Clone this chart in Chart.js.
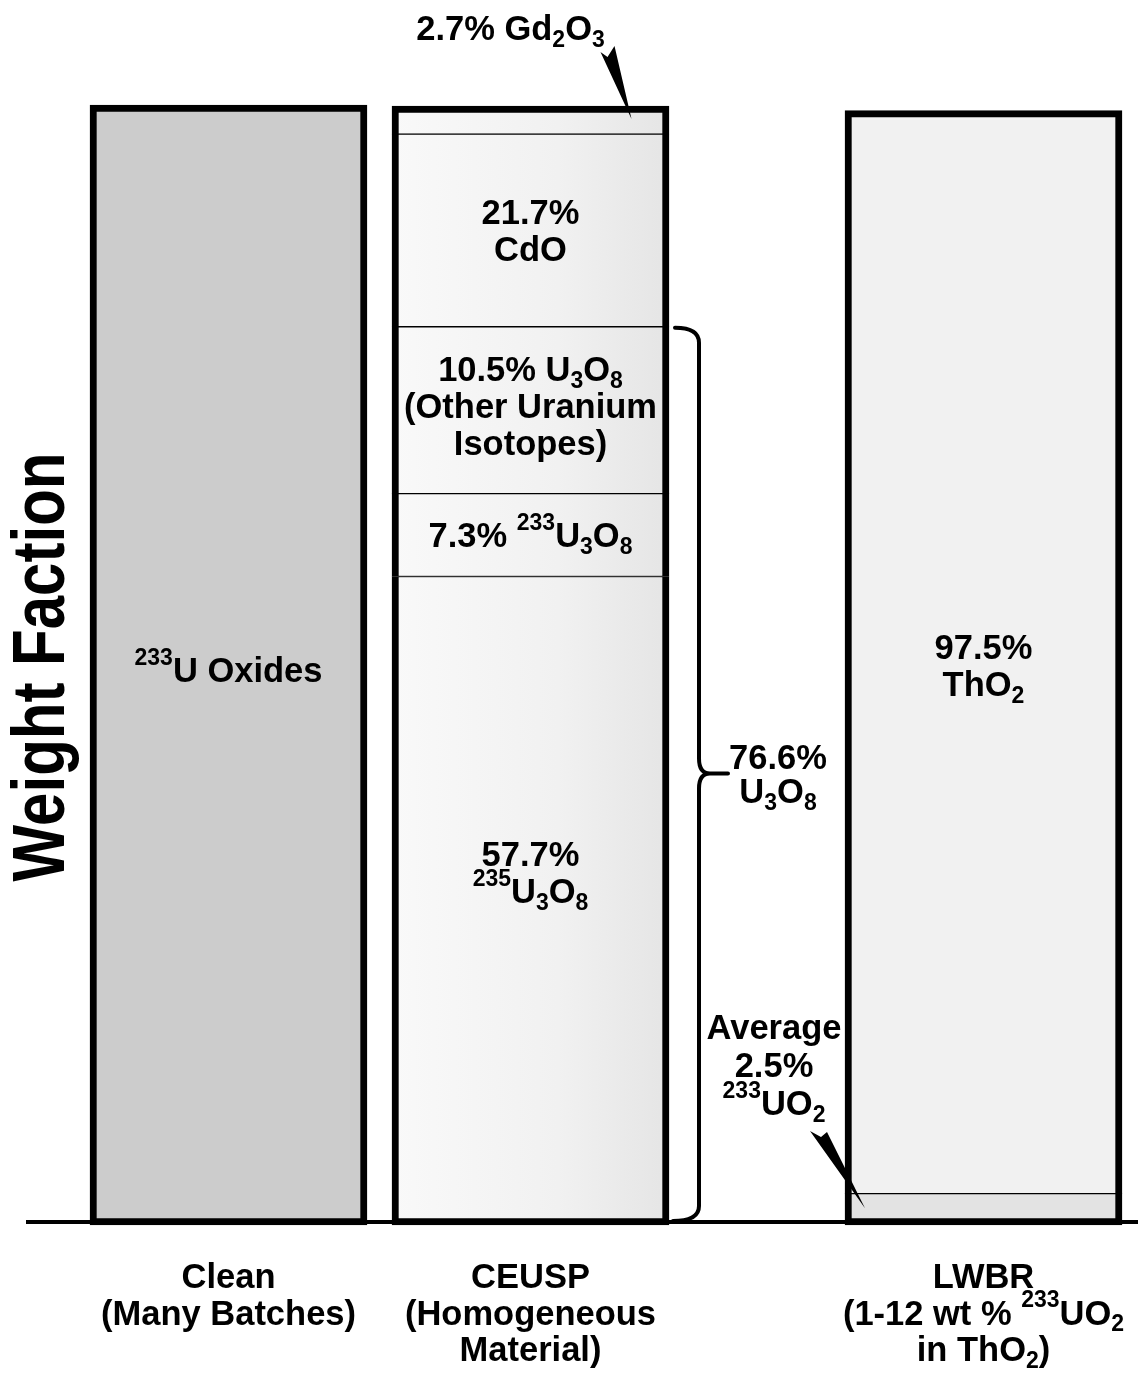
<!DOCTYPE html>
<html><head><meta charset="utf-8">
<script src="https://cdn.jsdelivr.net/npm/chart.js@4.4.0/dist/chart.umd.min.js"></script>
<style>html,body{margin:0;padding:0;background:#fff}#wrap{width:1138px;height:1374px;position:relative}</style>
</head><body><div id="wrap"><canvas id="c"></canvas></div>
<script>
// ---------- data ----------
const categories = ['Clean', 'CEUSP', 'LWBR'];
const categoryLabels = [
  ['Clean', '(Many Batches)'],
  ['CEUSP', '(Homogeneous', 'Material)'],
  ['LWBR', '(1-12 wt % ^{233}UO_{2}', 'in ThO_{2})']
];
const yTitle = 'Weight Faction';
// segment heights (% of column, as drawn), bottom to top
const u233Oxides = [100, null, null];
const u235U3O8   = [null, 57.9, null];
const u233UO2    = [null, null, 2.8];
const u233U3O8   = [null, 7.4, null];
const thO2       = [null, null, 96.7];
const otherU3O8  = [null, 14.9, null];
const cdO        = [null, 17.2, null];
const gd2O3      = [null, 2.5, null];
// in-bar label texts
const segmentText = {
  u233Oxides: ['^{233}U Oxides'],
  u235U3O8: ['57.7%', '^{235}U_{3}O_{8}'],
  u233U3O8: ['7.3% ^{233}U_{3}O_{8}'],
  otherU3O8: ['10.5% U_{3}O_{8}', '(Other Uranium', 'Isotopes)'],
  cdO: ['21.7%', 'CdO'],
  thO2: ['97.5%', 'ThO_{2}']
};
const gdText = '2.7% Gd_{2}O_{3}';
const avgText = ['Average', '2.5%', '^{233}UO_{2}'];
const braceText = ['76.6%', 'U_{3}O_{8}'];

// ---------- layout / style ----------
const FONT = '"Liberation Sans", Arial, Helvetica, sans-serif';
const FS = 34.5;
const BORDER = 7;
const BAR_W = 277;
const SLOTS = 6;
const slotOf = [0, 2, 5];
const labelDy = { u233Oxides: 5, u235U3O8: -28.5, u233U3O8: 0, otherU3O8: -4, cdO: 0, thO2: 13.5 };

function expand(arr) {
  const out = new Array(SLOTS).fill(null);
  arr.forEach((v, i) => { out[slotOf[i]] = v; });
  return out;
}
const slotLabels = expand(categories).map(v => v == null ? '' : v);

function ceuspFill(ctx) {
  const ch = ctx.chart;
  if (!ch.chartArea || !ch.scales.x) return '#eeeeee';
  const cx = ch.scales.x.getPixelForValue(slotOf[1]);
  const g = ch.ctx.createLinearGradient(cx - BAR_W / 2, 0, cx + BAR_W / 2, 0);
  g.addColorStop(0, '#f9f9f9');
  g.addColorStop(0.6, '#f1f1f1');
  g.addColorStop(1, '#e5e5e5');
  return g;
}
function borderFor(ctx) {
  const ci = ctx.dataIndex, di = ctx.datasetIndex;
  const ds = ctx.chart.data.datasets;
  const present = [];
  ds.forEach((d, k) => { if (d.data[ci] != null) present.push(k); });
  const isBottom = present[0] === di, isTop = present[present.length - 1] === di;
  return { left: BORDER, right: BORDER, top: isTop ? BORDER : 1, bottom: isBottom ? BORDER : 1 };
}

const series = [
  ['u233Oxides', u233Oxides, '#cccccc'],
  ['u235U3O8', u235U3O8, ceuspFill],
  ['u233UO2', u233UO2, '#e3e3e3'],
  ['u233U3O8', u233U3O8, ceuspFill],
  ['thO2', thO2, '#f1f1f1'],
  ['otherU3O8', otherU3O8, ceuspFill],
  ['cdO', cdO, ceuspFill],
  ['gd2O3', gd2O3, ceuspFill]
];

// ---------- rich text ----------
function parseRich(s) {
  const out = []; const re = /(\^\{[^}]*\}|_\{[^}]*\})/g; let last = 0, m;
  while ((m = re.exec(s))) {
    if (m.index > last) out.push({ t: s.slice(last, m.index), k: 0 });
    out.push({ t: m[0].slice(2, -1), k: m[0][0] === '^' ? 1 : -1 });
    last = re.lastIndex;
  }
  if (last < s.length) out.push({ t: s.slice(last), k: 0 });
  return out;
}
function drawRich(ctx, s, cx, by, size) {
  const segs = parseRich(s);
  const small = Math.round(size * 0.68);
  let w = 0;
  segs.forEach(g => { ctx.font = `bold ${g.k ? small : size}px ${FONT}`; g.w = ctx.measureText(g.t).width; w += g.w; });
  let x = cx - w / 2;
  ctx.textAlign = 'left'; ctx.textBaseline = 'alphabetic'; ctx.fillStyle = '#000';
  segs.forEach(g => {
    ctx.font = `bold ${g.k ? small : size}px ${FONT}`;
    const dy = g.k === 1 ? -size * 0.5 : g.k === -1 ? size * 0.2 : 0;
    ctx.fillText(g.t, x, by + dy);
    x += g.w;
  });
}

const decor = {
  id: 'decor',
  beforeDatasetsDraw(chart) {
    const c = chart.ctx, y0 = chart.scales.y.getPixelForValue(0);
    c.save();
    c.fillStyle = '#000';
    c.fillRect(26, y0 - 5, chart.width - 26, 4);
    c.restore();
  },
  afterDatasetsDraw(chart) {
    const c = chart.ctx;
    const ys = chart.scales.y, xs = chart.scales.x;
    const y0 = ys.getPixelForValue(0);
    const metaOf = name => chart.getDatasetMeta(series.findIndex(s => s[0] === name));
    c.save();
    // in-bar labels
    Object.keys(segmentText).forEach(name => {
      const meta = metaOf(name);
      const ci = series.find(s => s[0] === name)[1].findIndex(v => v != null);
      const el = meta.data[slotOf[ci]];
      const mid = (el.y + el.base) / 2 + (labelDy[name] || 0);
      const lines = segmentText[name];
      const L = 37;
      let by = mid - (lines.length - 1) * L / 2 + 12;
      lines.forEach((ln, i) => drawRich(c, ln, el.x, by + i * L, FS));
    });
    // category labels
    categoryLabels.forEach((lines, i) => {
      const cx = xs.getPixelForValue(slotOf[i]);
      lines.forEach((ln, k) => drawRich(c, ln, cx, y0 + 63 + k * 36.5, FS));
    });
    // y title
    c.save();
    c.translate(44, (chart.chartArea.top + chart.chartArea.bottom) / 2 + 2);
    c.rotate(-Math.PI / 2);
    c.scale(1, 1.22);
    c.font = `bold 60px ${FONT}`; c.textAlign = 'center'; c.textBaseline = 'middle'; c.fillStyle = '#000';
    c.fillText(yTitle, 0, 0);
    c.restore();
    // Gd label + wedge
    const gdEl = metaOf('gd2O3').data[slotOf[1]];
    drawRich(c, gdText, gdEl.x - 20, chart.chartArea.top - 65, FS);
    const gmid = (gdEl.y + gdEl.base) / 2;
    c.beginPath();
    c.moveTo(gdEl.x + 70, 52); c.lineTo(gdEl.x + 77, 57); c.lineTo(gdEl.x + 84, 46);
    c.lineTo(gdEl.x + 101, gmid - 1); c.closePath(); c.fill();
    // Average label + wedge
    const avEl = metaOf('u233UO2').data[slotOf[2]];
    const left = avEl.x - BAR_W / 2;
    avgText.forEach((ln, k) => drawRich(c, ln, left - 71, y0 - 186 + k * 38, FS));
    const amid = (avEl.y + avEl.base) / 2;
    c.beginPath();
    c.moveTo(left - 35, y0 - 94); c.lineTo(left - 24, y0 - 88); c.lineTo(left - 18, y0 - 93);
    c.lineTo(left + 20, amid - 1); c.closePath(); c.fill();
    // brace
    const obEl = metaOf('otherU3O8').data[slotOf[1]];
    const right = obEl.x + BAR_W / 2;
    const bx = right + 30, top = obEl.y + 1, bot = y0 - 4;
    const tipY = (top + y0) / 2 - 3, r = 15;
    c.lineWidth = 4; c.strokeStyle = '#000'; c.lineCap = 'round';
    c.beginPath();
    c.moveTo(right + 6, top);
    c.quadraticCurveTo(bx, top, bx, top + r);
    c.lineTo(bx, tipY - r);
    c.quadraticCurveTo(bx, tipY, bx + 11, tipY);
    c.lineTo(bx + 29, tipY);
    c.moveTo(bx + 11, tipY);
    c.quadraticCurveTo(bx, tipY, bx, tipY + r);
    c.lineTo(bx, bot - r);
    c.quadraticCurveTo(bx, bot, right + 4, bot);
    c.stroke();
    braceText.forEach((ln, k) => drawRich(c, ln, bx + 79, tipY - 4 + k * 34, FS));
    c.restore();
  }
};

new Chart(document.getElementById('c'), {
  type: 'bar',
  data: {
    labels: slotLabels,
    datasets: series.map(([name, arr, bg]) => ({
      label: name,
      data: expand(arr),
      backgroundColor: bg,
      borderColor: '#000',
      borderWidth: borderFor,
      borderSkipped: false,
      barThickness: BAR_W,
      clip: false,
      stack: 's'
    }))
  },
  options: {
    responsive: true, maintainAspectRatio: false, animation: false,
    layout: { padding: { left: 153, right: 79, top: 105, bottom: 149 } },
    plugins: { legend: { display: false }, tooltip: { enabled: false } },
    scales: {
      x: { display: false, stacked: true },
      y: { display: false, stacked: true, min: 0, max: 100 }
    }
  },
  plugins: [decor]
});
</script></body></html>
